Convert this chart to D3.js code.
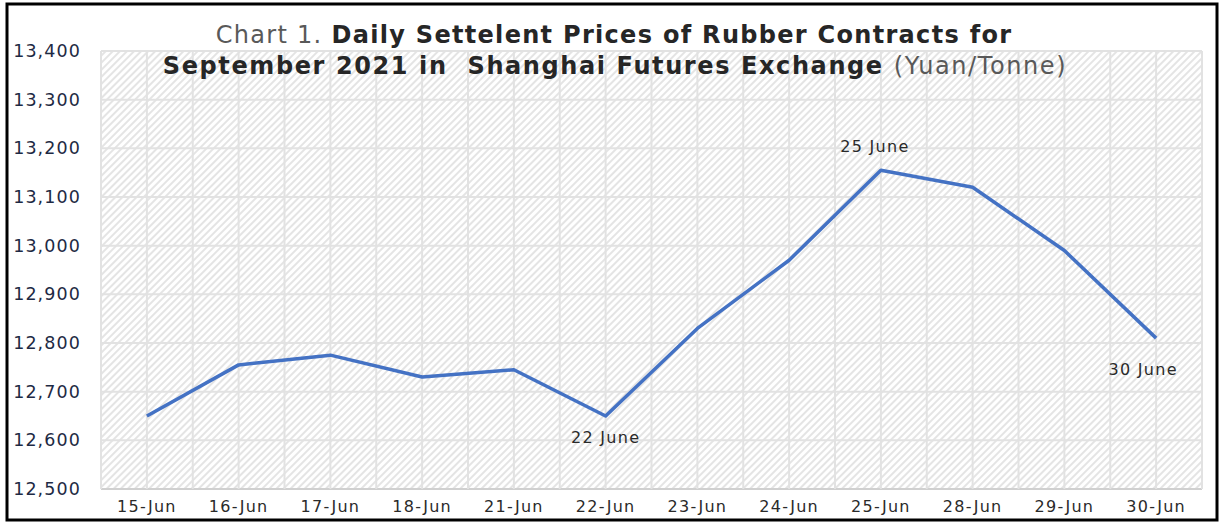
<!DOCTYPE html>
<html><head><meta charset="utf-8">
<script src="https://cdn.jsdelivr.net/npm/d3@7"></script>
<style>body{margin:0;background:#fff}svg{display:block}</style>
</head><body>
<script>
const categories = ["15-Jun","16-Jun","17-Jun","18-Jun","21-Jun","22-Jun","23-Jun","24-Jun","25-Jun","28-Jun","29-Jun","30-Jun"];
const prices = [12650,12755,12775,12730,12745,12650,12830,12970,13155,13120,12990,12810];
const yTicks = [12500,12600,12700,12800,12900,13000,13100,13200,13300,13400];
const annotations = [
  {cat:"22-Jun", text:"22 June"},
  {cat:"25-Jun", text:"25 June"},
  {cat:"30-Jun", text:"30 June"}
];

const W=1220,H=522;
const m={left:101,right:1202,top:51,bottom:489};
const svg=d3.select("body").append("svg").attr("width",W).attr("height",H);
const defs=svg.append("defs");
const pat=defs.append("pattern").attr("id","hatch").attr("patternUnits","userSpaceOnUse")
  .attr("width",5).attr("height",5).attr("patternTransform","rotate(-45)");
pat.append("rect").attr("width",5).attr("height",5).attr("fill","#fff");
pat.append("rect").attr("width",5).attr("height",2).attr("fill","#e4e4e4");

const x=d3.scaleBand().domain(categories).range([m.left,m.right]);
const y=d3.scaleLinear().domain([12500,13400]).range([m.bottom,m.top]);
const cx=d=>x(d)+x.bandwidth()/2;

svg.append("rect").attr("x",m.left).attr("y",m.top).attr("width",m.right-m.left).attr("height",m.bottom-m.top).attr("fill","url(#hatch)");

// grid
const g=svg.append("g");
g.selectAll("line.h").data(yTicks).join("line").attr("x1",m.left).attr("x2",m.right)
  .attr("y1",d=>y(d)).attr("y2",d=>y(d)).attr("stroke",d=>d===12500?"#d0d0d0":"#e2e2e2").attr("stroke-width",2);
const vx=[];categories.forEach(c=>{vx.push(x(c));vx.push(cx(c));});vx.push(m.right);
g.selectAll("line.v").data(vx).join("line").attr("y1",m.top).attr("y2",m.bottom)
  .attr("x1",d=>d).attr("x2",d=>d).attr("stroke","#e2e2e2").attr("stroke-width",2);

// y axis labels
const yAxis=d3.axisLeft(y).tickValues(yTicks).tickFormat(d3.format(",")).tickSize(0).tickPadding(0);
const ya=svg.append("g").attr("transform","translate(81,0)").call(yAxis);
ya.select(".domain").remove();
ya.selectAll("text").attr("font-family","DejaVu Sans").attr("font-size",17.5).attr("letter-spacing",1.1).attr("fill","#1e2a44");

// x axis labels
const xAxis=d3.axisBottom(x).tickSize(0).tickPadding(0);
const xa=svg.append("g").attr("transform","translate(0,501)").call(xAxis);
xa.select(".domain").remove();
xa.selectAll("text").attr("font-family","DejaVu Sans").attr("font-size",16).attr("letter-spacing",1.3).attr("fill","#2a2a2a");

// line
svg.append("path").datum(categories.map((c,i)=>[c,prices[i]]))
  .attr("d",d3.line().x(d=>cx(d[0])).y(d=>y(d[1])))
  .attr("fill","none").attr("stroke","#4472C4").attr("stroke-width",3.5).attr("stroke-linejoin","round");

// annotations
const annPos={"22-Jun":[0,27],"25-Jun":[-6,-18],"30-Jun":[-13,37]};
svg.selectAll("text.ann").data(annotations).join("text")
  .attr("x",d=>cx(d.cat)+annPos[d.cat][0])
  .attr("y",d=>y(prices[categories.indexOf(d.cat)])+annPos[d.cat][1])
  .attr("text-anchor","middle").attr("font-family","DejaVu Sans").attr("font-size",16).attr("letter-spacing",1.3).attr("fill","#2a2a2a")
  .text(d=>d.text);

// title
const t1=svg.append("text").attr("x",614).attr("y",43).attr("text-anchor","middle")
  .attr("font-family","DejaVu Sans").attr("font-size",24).attr("letter-spacing",1.3).attr("fill","#262626");
t1.append("tspan").attr("fill","#595959").text("Chart 1. ");
t1.append("tspan").attr("font-weight","bold").text("Daily Settelent Prices of Rubber Contracts for");
const t2=svg.append("text").attr("x",615).attr("y",74).attr("text-anchor","middle")
  .attr("font-family","DejaVu Sans").attr("font-size",24).attr("letter-spacing",1.6).attr("fill","#262626");
t2.append("tspan").attr("font-weight","bold").text("September 2021 in  Shanghai Futures Exchange ").attr("style","white-space:pre");
t2.append("tspan").attr("fill","#595959").text("(Yuan/Tonne)");

// frame
svg.append("rect").attr("x",7).attr("y",4).attr("width",1210).attr("height",516)
  .attr("fill","none").attr("stroke","#000").attr("stroke-width",3);
</script>
</body></html>
